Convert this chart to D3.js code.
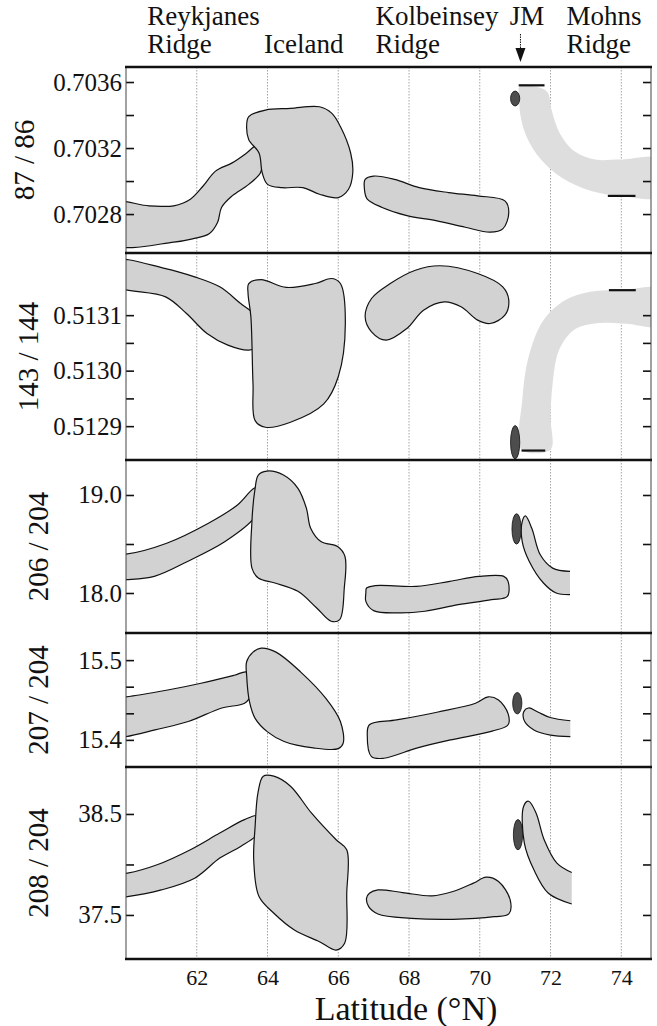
<!DOCTYPE html>
<html>
<head>
<meta charset="utf-8">
<script src="https://d3js.org/d3.v7.min.js"></script>
<style>
  body { margin: 0; background: #fff; }
  text { font-family: "Liberation Serif", "DejaVu Serif", serif; fill: #111; }
</style>
</head>
<body>
<div class="chart"></div>
<script>
// latitude axis
const latDomain = [60, 74.84];
const latTicks = [62, 64, 66, 68, 70, 72, 74];

// region labels along the top (text lines, latitude where the label starts)
const regionLabels = [
  { lines: ["Reykjanes", "Ridge"], lat: 60.6 },
  { lines: ["", "Iceland"], lat: 63.9 },
  { lines: ["Kolbeinsey", "Ridge"], lat: 67.05 },
  { lines: ["JM", ""], lat: 70.85 },
  { lines: ["Mohns", "Ridge"], lat: 72.45 }
];
const jmArrowLat = 71.15;

// ---- 87Sr/86Sr ----
const srDomain = [0.702564, 0.703691];
const srTicks = [0.7028, 0.7030, 0.7032, 0.7034, 0.7036];
const srLabels = [0.7028, 0.7032, 0.7036];
const srReykjanes = [[59.6,0.702866],[60.65,0.70285],[61.35,0.70285],[61.82,0.70289],[62.18,0.70297],[62.53,0.70306],[63.0,0.70311],[63.41,0.70317],[63.65,0.70321],[63.8,0.7032],[63.86,0.70313],[63.8,0.70305],[63.47,0.70298],[63.0,0.70291],[62.7,0.70284],[62.59,0.70275],[62.35,0.70268],[61.88,0.70265],[61.35,0.70263],[59.6,0.70262]];
const srIceland = [[63.47,0.70339],[63.94,0.70343],[64.65,0.70344],[65.47,0.70345],[65.82,0.70341],[66.06,0.70333],[66.35,0.70317],[66.41,0.70305],[66.29,0.70295],[66.0,0.7029],[65.47,0.70292],[65.0,0.70296],[64.41,0.70296],[64.0,0.70298],[63.85,0.70305],[63.76,0.70317],[63.47,0.70325],[63.41,0.70333]];
const srKolbeinsey = [[66.76,0.70301],[67.0,0.70303],[67.59,0.70301],[68.29,0.70296],[69.12,0.70293],[69.94,0.70291],[70.71,0.70288],[70.82,0.70281],[70.65,0.70271],[70.29,0.70269],[69.59,0.70272],[68.76,0.70276],[67.94,0.70279],[67.24,0.70284],[66.82,0.70289],[66.74,0.70295]];
const srMohnsBand = [[71.12,0.70357],[71.62,0.70357],[71.91,0.70354],[72.03,0.70343],[72.26,0.70329],[72.68,0.70318],[73.26,0.70313],[73.97,0.70313],[75.2,0.70313],[75.2,0.70291],[73.97,0.70291],[73.15,0.70294],[72.32,0.70302],[71.73,0.70313],[71.32,0.70327],[71.14,0.70341],[71.12,0.70351]];
const srJM = [71.0, 0.70350, 0.13, 0.000045];
const srBars = [[71.1, 71.83, 0.70358], [73.62, 74.4, 0.70291]];

// ---- 143Nd/144Nd ----
const ndDomain = [0.512839, 0.513212];
const ndTicks = [0.5129, 0.51295, 0.5130, 0.51305, 0.5131];
const ndLabels = [0.5129, 0.5130, 0.5131];
const ndReykjanes = [[59.6,0.513198],[61.12,0.513184],[61.94,0.513169],[62.65,0.513151],[63.24,0.513121],[63.65,0.5131],[63.8,0.513073],[63.73,0.513043],[63.47,0.513037],[62.88,0.513046],[62.29,0.513067],[61.71,0.513103],[61.12,0.513133],[59.6,0.513156]];
const ndIceland = [[63.47,0.513157],[63.82,0.513164],[64.53,0.51315],[65.35,0.513157],[65.82,0.513166],[66.06,0.513157],[66.2,0.513085],[66.0,0.512989],[65.59,0.51294],[64.65,0.512907],[63.94,0.512898],[63.65,0.51291],[63.59,0.512977],[63.53,0.513097],[63.45,0.513139]];
const ndKolbeinsey = [[66.94,0.51313],[67.47,0.513157],[68.18,0.513181],[68.88,0.513189],[69.94,0.513175],[70.65,0.513151],[70.82,0.513127],[70.71,0.5131],[70.29,0.513085],[69.94,0.513091],[69.47,0.513115],[69.0,0.513124],[68.41,0.513109],[67.94,0.513076],[67.35,0.513055],[66.94,0.51307],[66.76,0.513097]];
const ndMohnsBand = [[71.18,0.512858],[71.2,0.512946],[71.38,0.513025],[71.8,0.513091],[72.41,0.513127],[73.12,0.513142],[74.06,0.513146],[75.2,0.513146],[75.2,0.513082],[74.06,0.513085],[73.24,0.513085],[72.65,0.513073],[72.24,0.513037],[72.06,0.512977],[72.0,0.512916],[72.0,0.512858]];
const ndJM = [71.0, 0.512871, 0.13, 0.000030];
const ndBars = [[71.18, 71.85, 0.512856], [73.65, 74.41, 0.513145]];

// ---- 206Pb/204Pb ----
const pb6Domain = [17.592, 19.357];
const pb6Ticks = [18.0, 18.5, 19.0];
const pb6Labels = [18.0, 19.0];
const pb6Reykjanes = [[59.6,18.40],[60.0,18.397],[61.15,18.508],[62.33,18.712],[63.15,18.898],[63.62,19.068],[63.84,19.085],[63.88,18.966],[63.62,18.763],[62.8,18.525],[61.74,18.322],[60.8,18.17],[60.0,18.136],[59.6,18.13]];
const pb6Iceland = [[63.74,19.203],[63.98,19.244],[64.45,19.203],[64.86,19.068],[65.1,18.864],[65.22,18.661],[65.51,18.525],[65.98,18.474],[66.19,18.373],[66.17,18.051],[66.04,17.729],[65.8,17.712],[65.39,17.847],[64.86,18.017],[64.21,18.102],[63.74,18.153],[63.56,18.254],[63.56,18.729],[63.65,19.068]];
const pb6Kolbeinsey = [[66.8,18.051],[67.04,18.075],[68.21,18.068],[69.15,18.119],[69.98,18.17],[70.68,18.17],[70.8,18.119],[70.78,17.966],[70.33,17.932],[69.39,17.881],[68.45,17.814],[67.74,17.797],[67.0,17.82],[66.78,17.915],[66.78,18.0]];
const pb6Mohns = [[72.55,18.22],[72.06,18.254],[71.71,18.39],[71.47,18.661],[71.29,18.786],[71.2,18.729],[71.2,18.525],[71.4,18.322],[71.8,18.102],[72.16,18.0],[72.55,17.983]];
const pb6JM = [71.04, 18.654, 0.13, 0.155];

// ---- 207Pb/204Pb ----
const pb7Domain = [15.366, 15.534];
const pb7Ticks = [15.4, 15.4333, 15.4667, 15.5];
const pb7Labels = [15.4, 15.5];
const pb7Reykjanes = [[59.6,15.453],[60.0,15.454],[61.18,15.4625],[62.12,15.471],[63.06,15.481],[63.41,15.485],[63.53,15.475],[63.53,15.456],[63.35,15.446],[62.71,15.44],[61.76,15.423],[60.82,15.4125],[60.0,15.404],[59.6,15.402]];
const pb7Iceland = [[63.41,15.498],[63.59,15.51],[63.82,15.515],[64.24,15.51],[64.94,15.485],[65.65,15.452],[66.06,15.423],[66.14,15.396],[66.0,15.389],[65.29,15.39],[64.47,15.398],[64.0,15.41],[63.65,15.427],[63.49,15.448],[63.41,15.481]];
const pb7Kolbeinsey = [[66.88,15.419],[67.65,15.425],[68.82,15.435],[69.88,15.446],[70.24,15.454],[70.53,15.45],[70.8,15.433],[70.8,15.419],[70.35,15.411],[69.18,15.4],[68.24,15.39],[67.29,15.377],[66.94,15.379],[66.82,15.406]];
const pb7Mohns = [[72.56,15.424],[71.99,15.428],[71.64,15.435],[71.38,15.44],[71.24,15.435],[71.27,15.423],[71.53,15.4125],[72.0,15.406],[72.56,15.404]];
const pb7JM = [71.06, 15.446, 0.13, 0.0135];

// ---- 208Pb/204Pb ----
const pb8Domain = [37.064, 38.965];
const pb8Ticks = [37.5, 38.0, 38.5];
const pb8Labels = [37.5, 38.5];
const pb8Reykjanes = [[59.6,37.90],[60.04,37.914],[60.88,37.997],[61.82,38.146],[62.65,38.311],[63.35,38.444],[63.73,38.483],[63.85,38.411],[63.71,38.295],[63.24,38.179],[62.65,38.063],[61.94,37.864],[61.0,37.748],[60.04,37.682],[59.6,37.67]];
const pb8Iceland = [[63.73,38.709],[63.88,38.874],[64.18,38.874],[64.65,38.775],[65.24,38.51],[65.94,38.245],[66.24,38.146],[66.24,37.715],[66.18,37.219],[65.94,37.152],[65.47,37.235],[64.76,37.351],[64.18,37.517],[63.76,37.682],[63.61,38.046],[63.65,38.377]];
const pb8Kolbeinsey = [[66.88,37.715],[67.12,37.748],[67.82,37.722],[68.65,37.689],[69.24,37.732],[69.82,37.815],[70.18,37.874],[70.53,37.831],[70.86,37.649],[70.82,37.51],[70.41,37.483],[69.24,37.457],[68.06,37.467],[67.12,37.51],[66.86,37.583],[66.8,37.666]];
const pb8Mohns = [[72.6,37.92],[72.18,38.013],[71.82,38.245],[71.59,38.51],[71.38,38.626],[71.24,38.576],[71.26,38.212],[71.53,37.947],[71.94,37.715],[72.6,37.609]];
const pb8JM = [71.08, 38.295, 0.13, 0.15];

// ---- layout ----
const W = 657, H = 1026;
const left = 126, right = 651;
const borders = [67, 253, 460, 633, 767, 959];
const blobFill = "#d2d2d2", bandFill = "#dedede", jmFill = "#4d4d4d";

const panels = [
  { title: "87 / 86", tx: 24, domain: srDomain, ticks: srTicks, labels: srLabels, fmt: ".4f",
    blobs: [srReykjanes, srIceland, srKolbeinsey], band: srMohnsBand, jm: srJM, bars: srBars },
  { title: "143 / 144", tx: 28, domain: ndDomain, ticks: ndTicks, labels: ndLabels, fmt: ".4f",
    blobs: [ndReykjanes, ndIceland, ndKolbeinsey], band: ndMohnsBand, jm: ndJM, bars: ndBars },
  { title: "206 / 204", tx: 38, domain: pb6Domain, ticks: pb6Ticks, labels: pb6Labels, fmt: ".1f",
    blobs: [pb6Reykjanes, pb6Iceland, pb6Kolbeinsey], open: pb6Mohns, jm: pb6JM },
  { title: "207 / 204", tx: 38, domain: pb7Domain, ticks: pb7Ticks, labels: pb7Labels, fmt: ".1f",
    blobs: [pb7Reykjanes, pb7Iceland, pb7Kolbeinsey], open: pb7Mohns, jm: pb7JM },
  { title: "208 / 204", tx: 38, domain: pb8Domain, ticks: pb8Ticks, labels: pb8Labels, fmt: ".1f",
    blobs: [pb8Reykjanes, pb8Iceland, pb8Kolbeinsey], open: pb8Mohns, jm: pb8JM }
];

const svg = d3.select('.chart').append('svg')
  .attr('width', W).attr('height', H);

const x = d3.scaleLinear().domain(latDomain).range([left, right]);

// vertical grid lines through all panels
svg.append('g').selectAll('line')
  .data(latTicks)
  .join('line')
  .attr('x1', d => x(d)).attr('x2', d => x(d))
  .attr('y1', borders[0]).attr('y2', borders[5])
  .attr('stroke', '#9a9a9a').attr('stroke-width', 0.9)
  .attr('stroke-dasharray', '1.5,1.5');

panels.forEach((p, i) => {
  const top = borders[i], bottom = borders[i + 1];
  const y = d3.scaleLinear().domain(p.domain).range([bottom, top]);

  const clipId = 'clip' + i;
  svg.append('clipPath').attr('id', clipId)
    .append('rect').attr('x', left).attr('y', top)
    .attr('width', right - left).attr('height', bottom - top);

  const g = svg.append('g').attr('clip-path', `url(#${clipId})`);

  const closed = d3.line().x(d => x(d[0])).y(d => y(d[1]))
    .curve(d3.curveCatmullRomClosed.alpha(0.5));
  const open = d3.line().x(d => x(d[0])).y(d => y(d[1]))
    .curve(d3.curveCatmullRom.alpha(0.5));

  if (p.band) {
    g.append('path').attr('d', closed(p.band))
      .attr('fill', bandFill).attr('stroke', 'none');
  }

  g.selectAll('.blob')
    .data(p.blobs)
    .join('path')
    .attr('class', 'blob')
    .attr('d', d => closed(d))
    .attr('fill', blobFill)
    .attr('stroke', '#111')
    .attr('stroke-width', 1.2);

  if (p.open) {
    g.append('path').attr('d', open(p.open) + 'Z')
      .attr('fill', blobFill).attr('stroke', 'none');
    g.append('path').attr('d', open(p.open))
      .attr('fill', 'none').attr('stroke', '#111').attr('stroke-width', 1.2);
  }

  const [jl, jv, jrl, jrv] = p.jm;
  g.append('ellipse')
    .attr('cx', x(jl)).attr('cy', y(jv))
    .attr('rx', x(jl + jrl) - x(jl)).attr('ry', y(jv - jrv) - y(jv))
    .attr('fill', jmFill).attr('stroke', '#111').attr('stroke-width', 0.8);

  if (p.bars) {
    g.selectAll('.bar')
      .data(p.bars)
      .join('line')
      .attr('class', 'bar')
      .attr('x1', d => x(d[0])).attr('x2', d => x(d[1]))
      .attr('y1', d => y(d[2])).attr('y2', d => y(d[2]))
      .attr('stroke', '#111').attr('stroke-width', 2.2);
  }

  // left axis: ticks pointing inward, labels outside
  const fmt = d3.format(p.fmt);
  const yl = svg.append('g').attr('transform', `translate(${left},0)`)
    .call(d3.axisLeft(y).tickValues(p.ticks).tickSize(-8).tickPadding(4)
      .tickFormat(d => p.labels.some(v => Math.abs(v - d) < 1e-9) ? fmt(d) : ''));
  yl.select('.domain').remove();
  yl.selectAll('line').attr('stroke', '#111').attr('stroke-width', 1.6);
  yl.selectAll('text').style('font-size', '25px')
    .style('font-family', '"Liberation Serif", serif').attr('fill', '#111');

  const yr = svg.append('g').attr('transform', `translate(${right},0)`)
    .call(d3.axisRight(y).tickValues(p.ticks).tickSize(-8).tickFormat(''));
  yr.select('.domain').remove();
  yr.selectAll('line').attr('stroke', '#111').attr('stroke-width', 1.6);

  // panel title
  const cy = (top + bottom) / 2;
  svg.append('text')
    .attr('transform', `translate(${p.tx},${cy}) rotate(-90)`)
    .attr('text-anchor', 'middle')
    .attr('dy', '0.35em')
    .style('font-size', '29px')
    .text(p.title);
});

// frame
svg.append('g').selectAll('line')
  .data([left, right])
  .join('line')
  .attr('x1', d => d).attr('x2', d => d)
  .attr('y1', borders[0]).attr('y2', borders[5])
  .attr('stroke', '#444').attr('stroke-width', 1);

svg.append('g').selectAll('line')
  .data(borders)
  .join('line')
  .attr('x1', left - 1).attr('x2', right + 1)
  .attr('y1', d => d).attr('y2', d => d)
  .attr('stroke', '#111').attr('stroke-width', 2.4);

// bottom axis
const xa = svg.append('g').attr('transform', `translate(0,${borders[5]})`)
  .call(d3.axisBottom(x).tickValues(latTicks).tickSize(0).tickPadding(10).tickFormat(d3.format('d')));
xa.select('.domain').remove();
xa.selectAll('text').style('font-size', '22px')
  .style('font-family', '"Liberation Serif", serif').attr('fill', '#111');

svg.append('text')
  .attr('x', 406).attr('y', 1020)
  .attr('text-anchor', 'middle')
  .style('font-size', '34px')
  .text('Latitude (°N)');

// region labels
regionLabels.forEach(r => {
  r.lines.forEach((t, k) => {
    if (!t) return;
    svg.append('text')
      .attr('x', x(r.lat)).attr('y', 25 + k * 28)
      .style('font-size', '27px')
      .text(t);
  });
});

// JM arrow
const ax = x(jmArrowLat);
svg.append('line')
  .attr('x1', ax).attr('x2', ax).attr('y1', 34).attr('y2', 50)
  .attr('stroke', '#111').attr('stroke-width', 1).attr('stroke-dasharray', '1.5,1');
svg.append('path')
  .attr('d', `M${ax - 5},48 L${ax + 5},48 L${ax},62 Z`)
  .attr('fill', '#111');
</script>
</body>
</html>
